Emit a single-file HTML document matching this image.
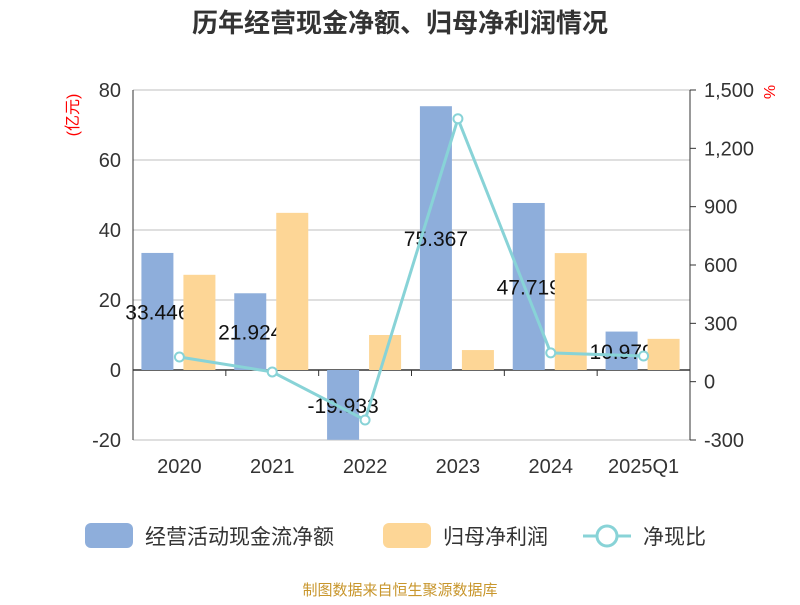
<!DOCTYPE html>
<html><head><meta charset="utf-8"><style>
body{margin:0;background:#fff;font-family:"Liberation Sans","Noto Sans CJK SC",sans-serif}
</style></head><body>
<svg id="c" width="800" height="600" xmlns="http://www.w3.org/2000/svg" style="font-family:'Liberation Sans','Noto Sans CJK SC',sans-serif">
<text x="400" y="32" text-anchor="middle" font-size="26" font-weight="bold" fill="#333">历年经营现金净额、归母净利润情况</text>
<text transform="translate(78,115) rotate(-90)" text-anchor="middle" font-size="16" fill="red">(亿元)</text>
<text transform="translate(764,92) rotate(90)" text-anchor="middle" font-size="16" fill="red">%</text>
<g id="grid"></g><g id="bars"></g><g id="labels"></g><g id="bars2"></g><g id="line"></g><g id="axes"></g>
<g>
<rect x="85" y="523" width="48" height="25" rx="6" fill="#8eaedb"/>
<text x="145" y="544" font-size="21" fill="#333">经营活动现金流净额</text>
<rect x="383" y="523" width="48" height="25" rx="6" fill="#fdd696"/>
<text x="443" y="544" font-size="21" fill="#333">归母净利润</text>
<line x1="583" y1="536" x2="631" y2="536" stroke="#88d3d7" stroke-width="3"/>
<circle cx="607" cy="536" r="10" fill="#fff" stroke="#88d3d7" stroke-width="3"/>
<text x="643" y="544" font-size="21" fill="#333">净现比</text>
</g>
<text x="400" y="595" text-anchor="middle" font-size="15" fill="#c8962c">制图数据来自恒生聚源数据库</text>
</svg>
<script>
const categories=["2020","2021","2022","2023","2024","2025Q1"];
const cashflow=[33.446,21.924,-19.933,75.367,47.719,10.979];
const profit=[27.2,44.9,10.0,5.7,33.4,8.9];
const ratio=[127,50,-197,1352,148,132];
const leftTicks=[-20,0,20,40,60,80];
const rightTicks=[-300,0,300,600,900,1200,1500];
const rightTickLabels=["-300","0","300","600","900","1,200","1,500"];
const NS="http://www.w3.org/2000/svg";
const X0=133,X1=690,YT=90,YB=440;
const yL=v=>YB-(v+20)/100*(YB-YT);
const yR=v=>YB-(v+300)/1800*(YB-YT);
const band=(X1-X0)/categories.length;
const xc=i=>X0+band*(i+0.5);
function mk(tag,attrs,parent,text){const e=document.createElementNS(NS,tag);for(const k in attrs)e.setAttribute(k,attrs[k]);if(text!=null)e.textContent=text;document.getElementById(parent).appendChild(e);return e;}
leftTicks.forEach((t,i)=>{
 const g=mk('line',{x1:X0,x2:X1,y1:yL(t),y2:yL(t),stroke:t===0?'#333':'#ccc','stroke-width':t===0?1.5:1.2},'grid');
 
 
 const l=mk('text',{x:X0-12,y:yL(t)+7,'text-anchor':'end','font-size':20,fill:'#333'},'axes',String(t));
 
 
});
rightTicks.forEach((t,i)=>{
 const l=mk('text',{x:X1+14,y:yR(t)+7,'font-size':20,fill:'#333'},'axes',rightTickLabels[i]);
 
 
 const tk=mk('line',{x1:X1,x2:X1+6,y1:yR(t),y2:yR(t),stroke:'#333'},'axes');
 
 
});
let a=mk('line',{x1:X0,x2:X0,y1:YT,y2:YB,stroke:'#333'},'axes');
a=mk('line',{x1:X1,x2:X1,y1:YT,y2:YB,stroke:'#333'},'axes');
for(let i=0;i<=categories.length;i++){const t=mk('line',{x1:X0+band*i,x2:X0+band*i,y1:yL(0),y2:yL(0)+6,stroke:'#333'},'axes');}
categories.forEach((c,i)=>{
 const l=mk('text',{x:xc(i),y:473,'text-anchor':'middle','font-size':20,fill:'#333'},'axes',c);
 
 
 const v=cashflow[i],y0=yL(0),y1=yL(v);
 const b=mk('rect',{x:xc(i)-38,y:Math.min(y0,y1),width:32,height:Math.abs(y1-y0),fill:'#8eaedb'},'bars');
 
 
 const t=mk('text',{x:xc(i)-22,y:(y0+y1)/2+8,'text-anchor':'middle','font-size':21,fill:'#111'},'labels',v.toFixed(3));
 
 
 const p=profit[i],py=yL(p);
 const b2=mk('rect',{x:xc(i)+4,y:Math.min(y0,py),width:32,height:Math.abs(py-y0),fill:'#fdd696'},'bars2');
 
 
});
const pts=ratio.map((r,i)=>xc(i)+','+yR(r)).join(' ');
const pl=mk('polyline',{points:pts,fill:'none',stroke:'#88d3d7','stroke-width':3},'line');


ratio.forEach((r,i)=>{
 const c=mk('circle',{cx:xc(i),cy:yR(r),r:4.5,fill:'#fff',stroke:'#88d3d7','stroke-width':2},'line');
 
 
});
</script>
</body></html>
